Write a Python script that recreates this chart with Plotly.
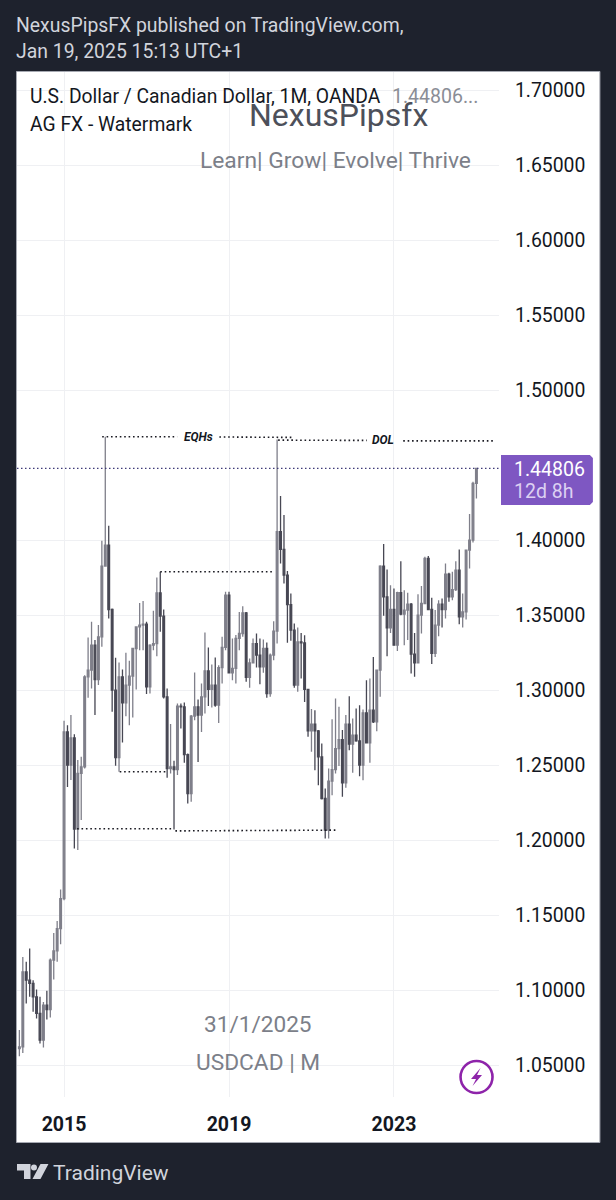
import plotly.graph_objects as go

# USD/CAD monthly bars, December 2013 through January 2025
opens = [1.0613,1.0624,1.1124,1.1069,1.1047,1.0958,1.0847,1.0669,1.0902,1.0873,1.1202,1.1264,1.1413,1.1613,
 1.2724,1.2502,1.2684,1.2076,1.2447,1.2491,1.3091,1.3136,1.3302,1.3073,1.3358,1.3829,
 1.3969,1.3540,1.3002,1.2553,1.3091,1.2918,1.3036,1.3096,1.3280,1.3424,1.3436,1.3442,
 1.3024,1.3302,1.3313,1.3651,1.3496,1.2958,1.2480,1.2491,1.2473,1.2896,1.2891,1.2573,
 1.2313,1.2829,1.2891,1.2836,1.2958,1.3131,1.3007,1.3036,1.2902,1.3153,1.3287,1.3636,
 1.3118,1.3147,1.3347,1.3380,1.3518,1.3087,1.3184,1.3313,1.3236,1.3158,1.3280,1.2980,
 1.3236,1.3396,1.4058,1.3940,1.3769,1.3573,1.3402,1.3036,1.3324,1.3318,1.3007,1.2731,
 1.2776,1.2731,1.2558,1.2280,1.2069,1.2396,1.2473,1.2613,1.2673,1.2384,1.2776,1.2642,
 1.2702,1.2664,1.2502,1.2851,1.2651,1.2869,1.2791,1.3136,1.3829,1.3624,1.3418,1.3540,
 1.3302,1.3653,1.3509,1.3536,1.3576,1.3242,1.3184,1.3502,1.3580,1.3880,1.3540,1.3247,
 1.3436,1.3576,1.3540,1.3776,1.3624,1.3673,1.3802,1.3491,1.3524,1.3936,1.4002,1.4380]
highs = [1.0736,1.1224,1.1191,1.1280,1.1069,1.1007,1.0958,1.0924,1.0998,1.1213,1.1384,1.1464,1.1673,1.2798,
 1.2769,1.2836,1.2709,1.2536,1.2558,1.3102,1.3353,1.3458,1.3336,1.3436,1.3998,1.4691,
 1.4098,1.3547,1.3218,1.3187,1.3140,1.3251,1.3198,1.3282,1.3429,1.3584,1.3596,1.3458,
 1.3309,1.3531,1.3753,1.3791,1.3540,1.3013,1.2776,1.2531,1.2913,1.2913,1.2920,1.2580,
 1.2836,1.3120,1.2940,1.3047,1.3387,1.3287,1.3173,1.3220,1.3169,1.3358,1.3658,1.3658,
 1.3347,1.3370,1.3524,1.3562,1.3524,1.3213,1.3347,1.3380,1.3347,1.3340,1.3320,1.3247,
 1.3462,1.4673,1.4296,1.4169,1.3796,1.3647,1.3447,1.3420,1.3384,1.3369,1.3007,1.2876,
 1.2869,1.2736,1.2647,1.2347,1.2480,1.2809,1.2947,1.2891,1.2736,1.2836,1.2962,1.2813,
 1.2880,1.2902,1.2873,1.3069,1.3080,1.3224,1.3140,1.3835,1.3976,1.3807,1.3702,1.3680,
 1.3658,1.3862,1.3669,1.3651,1.3584,1.3384,1.3642,1.3696,1.3891,1.3896,1.3618,1.3536,
 1.3602,1.3613,1.3847,1.3784,1.3791,1.3862,1.3940,1.3647,1.3940,1.4176,1.4391,1.4481]
lows = [1.0562,1.0584,1.0913,1.0958,1.0858,1.0813,1.0647,1.0620,1.0807,1.0820,1.1073,1.1191,1.1309,1.1602,
 1.2356,1.2404,1.1947,1.1936,1.2136,1.2480,1.2951,1.3013,1.2836,1.3036,1.3291,1.3824,
 1.3480,1.2858,1.2498,1.2458,1.2653,1.2829,1.2769,1.2820,1.3007,1.3269,1.3269,1.2976,
 1.2980,1.3269,1.3229,1.3391,1.2947,1.2418,1.2447,1.2073,1.2436,1.2747,1.2518,1.2247,
 1.2258,1.2802,1.2524,1.2724,1.2847,1.2896,1.2887,1.2891,1.2784,1.3047,1.3269,1.3113,
 1.3069,1.3047,1.3269,1.3358,1.3058,1.3018,1.3180,1.3153,1.3042,1.3118,1.2951,1.2958,
 1.3202,1.3313,1.3847,1.3713,1.3318,1.3331,1.3018,1.2991,1.3080,1.2924,1.2691,1.2591,
 1.2469,1.2369,1.2273,1.2013,1.2013,1.2302,1.2447,1.2496,1.2291,1.2351,1.2602,1.2451,
 1.2658,1.2429,1.2402,1.2647,1.2518,1.2784,1.2729,1.2958,1.3498,1.3229,1.3384,1.3298,
 1.3264,1.3502,1.3302,1.3336,1.3113,1.3091,1.3180,1.3380,1.3584,1.3536,1.3176,1.3224,
 1.3362,1.3420,1.3480,1.3591,1.3602,1.3664,1.3442,1.3420,1.3473,1.3813,1.3987,1.4280]
closes = [1.0624,1.1124,1.1069,1.1047,1.0958,1.0847,1.0669,1.0902,1.0873,1.1202,1.1264,1.1413,1.1613,1.2724,
 1.2502,1.2684,1.2076,1.2447,1.2491,1.3091,1.3136,1.3302,1.3073,1.3358,1.3829,1.3969,
 1.3540,1.3002,1.2553,1.3091,1.2918,1.3036,1.3096,1.3280,1.3424,1.3436,1.3442,1.3024,
 1.3302,1.3313,1.3651,1.3496,1.2958,1.2480,1.2491,1.2473,1.2896,1.2891,1.2573,1.2313,
 1.2829,1.2891,1.2836,1.2958,1.3131,1.3007,1.3036,1.2902,1.3153,1.3287,1.3636,1.3118,
 1.3147,1.3347,1.3380,1.3518,1.3087,1.3184,1.3313,1.3236,1.3158,1.3280,1.2980,1.3236,
 1.3396,1.4058,1.3940,1.3769,1.3573,1.3402,1.3036,1.3324,1.3318,1.3007,1.2731,1.2776,
 1.2731,1.2558,1.2280,1.2069,1.2396,1.2473,1.2613,1.2673,1.2384,1.2776,1.2642,1.2702,
 1.2664,1.2502,1.2851,1.2651,1.2869,1.2791,1.3136,1.3829,1.3624,1.3418,1.3540,1.3302,
 1.3653,1.3509,1.3536,1.3576,1.3242,1.3184,1.3502,1.3580,1.3880,1.3540,1.3247,1.3436,
 1.3576,1.3540,1.3776,1.3624,1.3673,1.3802,1.3491,1.3524,1.3936,1.4002,1.4380,1.44806]

bar_index = list(range(len(closes)))
year_ticks = [13, 61, 109]
year_labels = ["2015", "2019", "2023"]
price_ticks = [1.05, 1.10, 1.15, 1.20, 1.25, 1.30, 1.35, 1.40, 1.50, 1.55, 1.60, 1.65, 1.70]
price_labels = [f"{p:.5f}" for p in price_ticks]
last_price = 1.44806

# hand-drawn levels: (start bar, end bar, start price, end price)
eqh_segments = [(24.1, 45.9, 1.4691, 1.4691), (58.2, 79.7, 1.4690, 1.4687)]
dol_segments = [(75.3, 101.1, 1.4669, 1.4667), (111.7, 137.8, 1.4664, 1.4664)]
structure_segments = [(41.0, 74.2, 1.3791, 1.3791), (29.2, 43.0, 1.2458, 1.2458),
                      (16.8, 44.9, 1.2078, 1.2078), (45.4, 92.2, 1.2064, 1.2069)]

W, H = 616, 1200
LEFT, RIGHT, TOP, BOTTOM = 16.5, 499.0, 72.0, 1097.0
BG = "#1e222d"
INK = "#131722"
GRID = "#eff0f3"


def px(x):
    return (x - LEFT) / (RIGHT - LEFT)


def py(y):
    return (BOTTOM - y) / (BOTTOM - TOP)


def pixel_path(points):
    return "M" + "L".join(f"{px(a):.5f},{py(b):.5f}" for a, b in points) + "Z"


fig = go.Figure()
fig.add_trace(go.Candlestick(
    x=bar_index, open=opens, high=highs, low=lows, close=closes,
    increasing=dict(line=dict(color="#7f7f8a", width=1.3), fillcolor="#7f7f8a"),
    decreasing=dict(line=dict(color="#474753", width=1.3), fillcolor="#474753"),
    whiskerwidth=0, showlegend=False, hoverinfo="skip",
))

for x0, x1, y0, y1 in eqh_segments + dol_segments + structure_segments:
    fig.add_trace(go.Scatter(x=[x0, x1], y=[y0, y1], mode="lines", showlegend=False, hoverinfo="skip",
                             line=dict(color="#1a1a22", width=1.6, dash="1.6px 2.8px")))

# last-price line across the pane
fig.add_trace(go.Scatter(x=[-0.69, 139.57], y=[last_price, last_price], mode="lines", showlegend=False,
                         hoverinfo="skip", line=dict(color="#3f3a78", width=1.2, dash="1.5px 2.5px")))

shapes = [
    dict(type="rect", xref="paper", yref="paper", layer="below",
         x0=px(16), x1=px(600), y0=py(1142.5), y1=py(71.5),
         fillcolor="#ffffff", line=dict(color="#a6a9b2", width=1)),
    # price label on the axis
    dict(type="path", xref="paper", yref="paper", fillcolor="#7e57c2", line=dict(width=0),
         path=pixel_path([(501, 455), (590, 455), (593, 458), (593, 502), (590, 505), (501, 505)])),
    # lightning badge
    dict(type="circle", xref="paper", yref="paper", x0=px(460.5), x1=px(492.5), y0=py(1093), y1=py(1061),
         fillcolor="#ffffff", line=dict(color="#8e24aa", width=2.6)),
    dict(type="path", xref="paper", yref="paper", fillcolor="#8e24aa", line=dict(width=0),
         path=pixel_path([(480.5, 1068), (471, 1079), (476, 1079), (472.5, 1086), (482, 1075), (477, 1075)])),
    # TradingView mark
    dict(type="path", xref="paper", yref="paper", fillcolor="#d1d4dc", line=dict(width=0),
         path=pixel_path([(16.5, 1164), (30, 1164), (30, 1179), (23.5, 1179), (23.5, 1170.5), (16.5, 1170.5)])),
    dict(type="circle", xref="paper", yref="paper", x0=px(30.5), x1=px(36.5), y0=py(1170.5), y1=py(1164.5),
         fillcolor="#d1d4dc", line=dict(width=0)),
    dict(type="path", xref="paper", yref="paper", fillcolor="#d1d4dc", line=dict(width=0),
         path=pixel_path([(40, 1164), (48, 1164), (40, 1179), (32, 1179)])),
]


def label(x, y, text, size, color, anchor="left", weight=400, style="normal"):
    return dict(x=px(x), y=py(y), xref="paper", yref="paper", text=text, showarrow=False,
                xanchor=anchor, yanchor="middle", align=anchor,
                font=dict(family="Roboto", size=size, color=color, weight=weight, style=style))


annotations = [
    label(13.5, 26, "NexusPipsFX published on TradingView.com,", 19.4, "#d1d4dc"),
    label(13.5, 52, "Jan 19, 2025 15:13 UTC+1", 19.4, "#d1d4dc"),
    label(27.5, 96, "U.S. Dollar / Canadian Dollar, 1M, OANDA", 19.3, INK),
    label(390, 96, "1.44806...", 19.5, "#8a8d96"),
    label(27.5, 124, "AG FX - Watermark", 19.3, INK),
    label(338, 115, "NexusPipsfx", 32, "#4d505a", "center"),
    label(335, 161, "Learn| Grow| Evolve| Thrive", 22.8, "#7c7f89", "center"),
    label(258, 1024, "31/1/2025", 22.6, "#7c7f89", "center"),
    label(258, 1062, "USDCAD | M", 22.7, "#7c7f89", "center"),
    label(197.7, 437, "EQHs", 12, INK, "center", 700, "italic"),
    label(383, 440, "DOL", 12, INK, "center", 700, "italic"),
    label(512.5, 469, f"{last_price:.5f}", 19.5, "#ffffff"),
    label(512.5, 491, "12d 8h", 19.5, "#dcd0f2"),
    label(51, 1173, "TradingView", 21, "#d1d4dc"),
]

fig.update_layout(
    width=W, height=H, autosize=False,
    margin=dict(l=LEFT, r=W - RIGHT, t=TOP, b=H - BOTTOM, pad=0),
    paper_bgcolor=BG, plot_bgcolor="#ffffff",
    showlegend=False, shapes=shapes, annotations=annotations,
    font=dict(family="Roboto", color=INK),
    xaxis=dict(range=[-0.69, 139.57], tickvals=year_ticks, ticktext=year_labels,
               showgrid=True, gridcolor=GRID, gridwidth=1, zeroline=False, showline=False,
               ticks="outside", ticklen=10, tickcolor="#ffffff",
               tickfont=dict(family="Roboto", size=19.5, color=INK, weight=700),
               rangeslider=dict(visible=False)),
    yaxis=dict(range=[1.029, 1.7123], side="right", tickvals=price_ticks, ticktext=price_labels,
               showgrid=True, gridcolor=GRID, gridwidth=1, zeroline=False, showline=False,
               ticks="outside", ticklen=11, tickcolor="#ffffff",
               tickfont=dict(family="Roboto", size=19.4, color=INK)),
)

fig.write_html("out.html")
